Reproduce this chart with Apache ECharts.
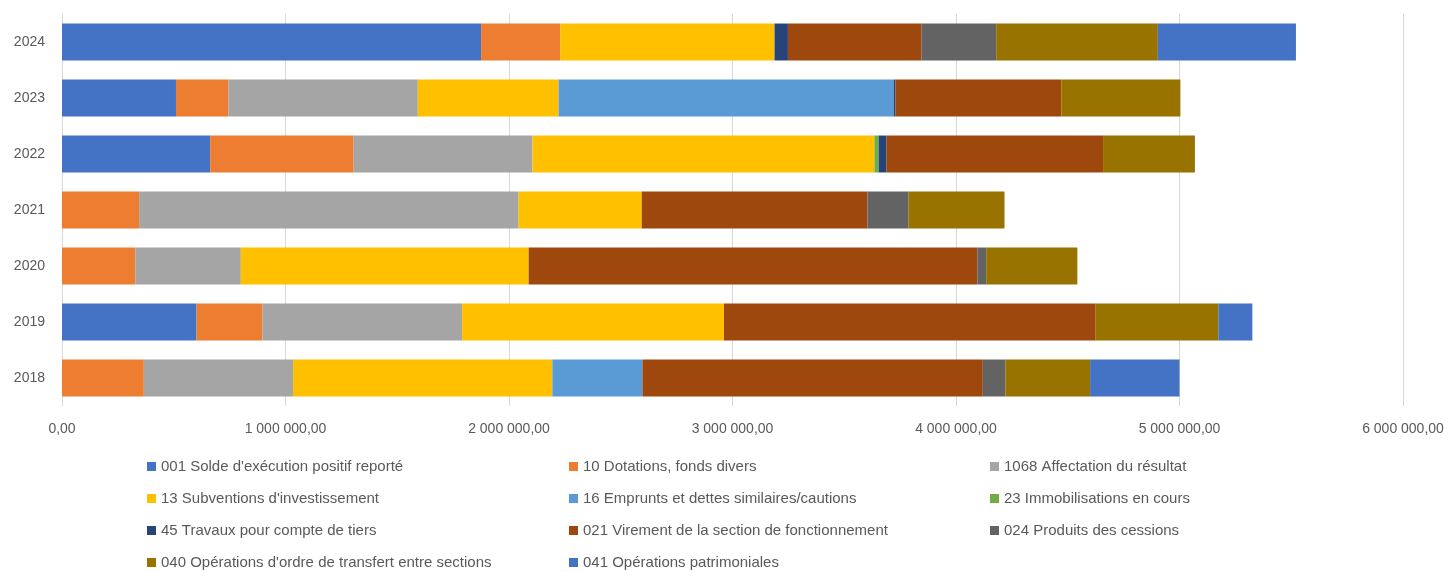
<!DOCTYPE html>
<html>
<head>
<meta charset="utf-8">
<script src="https://cdn.jsdelivr.net/npm/echarts@6/dist/echarts.min.js"></script>
<style>
  html, body { margin: 0; padding: 0; background: #ffffff; }
  #chart { width: 1449px; height: 572px; }
</style>
</head>
<body>
<div id="chart"></div>
<script>
// Budget years (bottom to top)
const years = ['2018', '2019', '2020', '2021', '2022', '2023', '2024'];

// Amounts per chapter, one value per year (2018 .. 2024)
const s001 = [0, 602000, 0, 0, 663000, 510000, 1875000];
const s10 = [366000, 295000, 328000, 345000, 642000, 235000, 354000];
const s1068 = [668000, 893000, 472000, 1698000, 800000, 847000, 0];
const s13 = [1160000, 1172000, 1288000, 551000, 1530000, 630000, 959000];
const s16 = [403000, 0, 0, 0, 0, 1499000, 0];
const s23 = [0, 0, 0, 0, 19000, 0, 0];
const s45 = [0, 0, 0, 0, 35000, 8000, 60000];
const s021 = [1523000, 1663000, 2008000, 1010000, 969000, 743000, 598000];
const s024 = [101000, 0, 39000, 184000, 0, 0, 334000];
const s040 = [379000, 549000, 408000, 429000, 411000, 532000, 723000];
const s041 = [400000, 152000, 0, 0, 0, 0, 618000];

const seriesNames = [
  "001 Solde d'exécution positif reporté",
  "10 Dotations, fonds divers",
  "1068 Affectation du résultat",
  "13 Subventions d'investissement",
  "16 Emprunts et dettes similaires/cautions",
  "23 Immobilisations en cours",
  "45 Travaux pour compte de tiers",
  "021 Virement de la section de fonctionnement",
  "024 Produits des cessions",
  "040 Opérations d'ordre de transfert entre sections",
  "041 Opérations patrimoniales"
];
const seriesValues = [s001, s10, s1068, s13, s16, s23, s45, s021, s024, s040, s041];
const seriesColors = ['#4472C4', '#ED7D31', '#A5A5A5', '#FFC000', '#5B9BD5', '#70AD47',
                      '#264478', '#9E480E', '#636363', '#997300', '#4472C4'];

const FONT = "'Liberation Sans', Arial, sans-serif";
const TEXT_COLOR = '#595959';

function frNumber(v) {
  const parts = v.toFixed(2).split('.');
  const intPart = parts[0].replace(/\B(?=(\d{3})+(?!\d))/g, ' ');
  return intPart + ',' + parts[1];
}

const series = seriesNames.map((name, i) => ({
  name: name,
  type: 'bar',
  stack: 'total',
  barCategoryGap: '34%',
  itemStyle: { color: seriesColors[i] },
  emphasis: { disabled: true },
  data: seriesValues[i]
}));

const legendText = { fontFamily: FONT, fontSize: 15, color: TEXT_COLOR };
// Three legend columns, four rows each
function legendColumn(idxs, left) {
  return {
    orient: 'vertical',
    left: left,
    top: 459,
    padding: 0,
    itemWidth: 9,
    itemHeight: 9,
    itemGap: 17,
    icon: 'rect',
    textStyle: legendText,
    selectedMode: false,
    data: idxs.map(i => seriesNames[i])
  };
}

const chart = echarts.init(document.getElementById('chart'), null, { renderer: 'canvas' });
chart.setOption({
  animation: false,
  backgroundColor: '#ffffff',
  grid: { left: 62, right: 46, top: 14, height: 392, containLabel: false },
  xAxis: {
    type: 'value',
    min: 0,
    max: 6000000,
    interval: 1000000,
    axisLine: { show: false },
    axisTick: { show: false },
    splitLine: { lineStyle: { color: '#d9d9d9', width: 1 } },
    axisLabel: {
      margin: 16,
      fontFamily: FONT,
      fontSize: 14,
      color: TEXT_COLOR,
      formatter: v => frNumber(v)
    }
  },
  yAxis: {
    type: 'category',
    data: years,
    axisLine: { show: true, lineStyle: { color: '#d9d9d9' } },
    axisTick: { show: false },
    axisLabel: { margin: 17, fontFamily: FONT, fontSize: 14, color: TEXT_COLOR }
  },
  legend: [
    legendColumn([0, 3, 6, 9], 147),
    legendColumn([1, 4, 7, 10], 569),
    legendColumn([2, 5, 8], 990)
  ],
  series: series
});
</script>
</body>
</html>
